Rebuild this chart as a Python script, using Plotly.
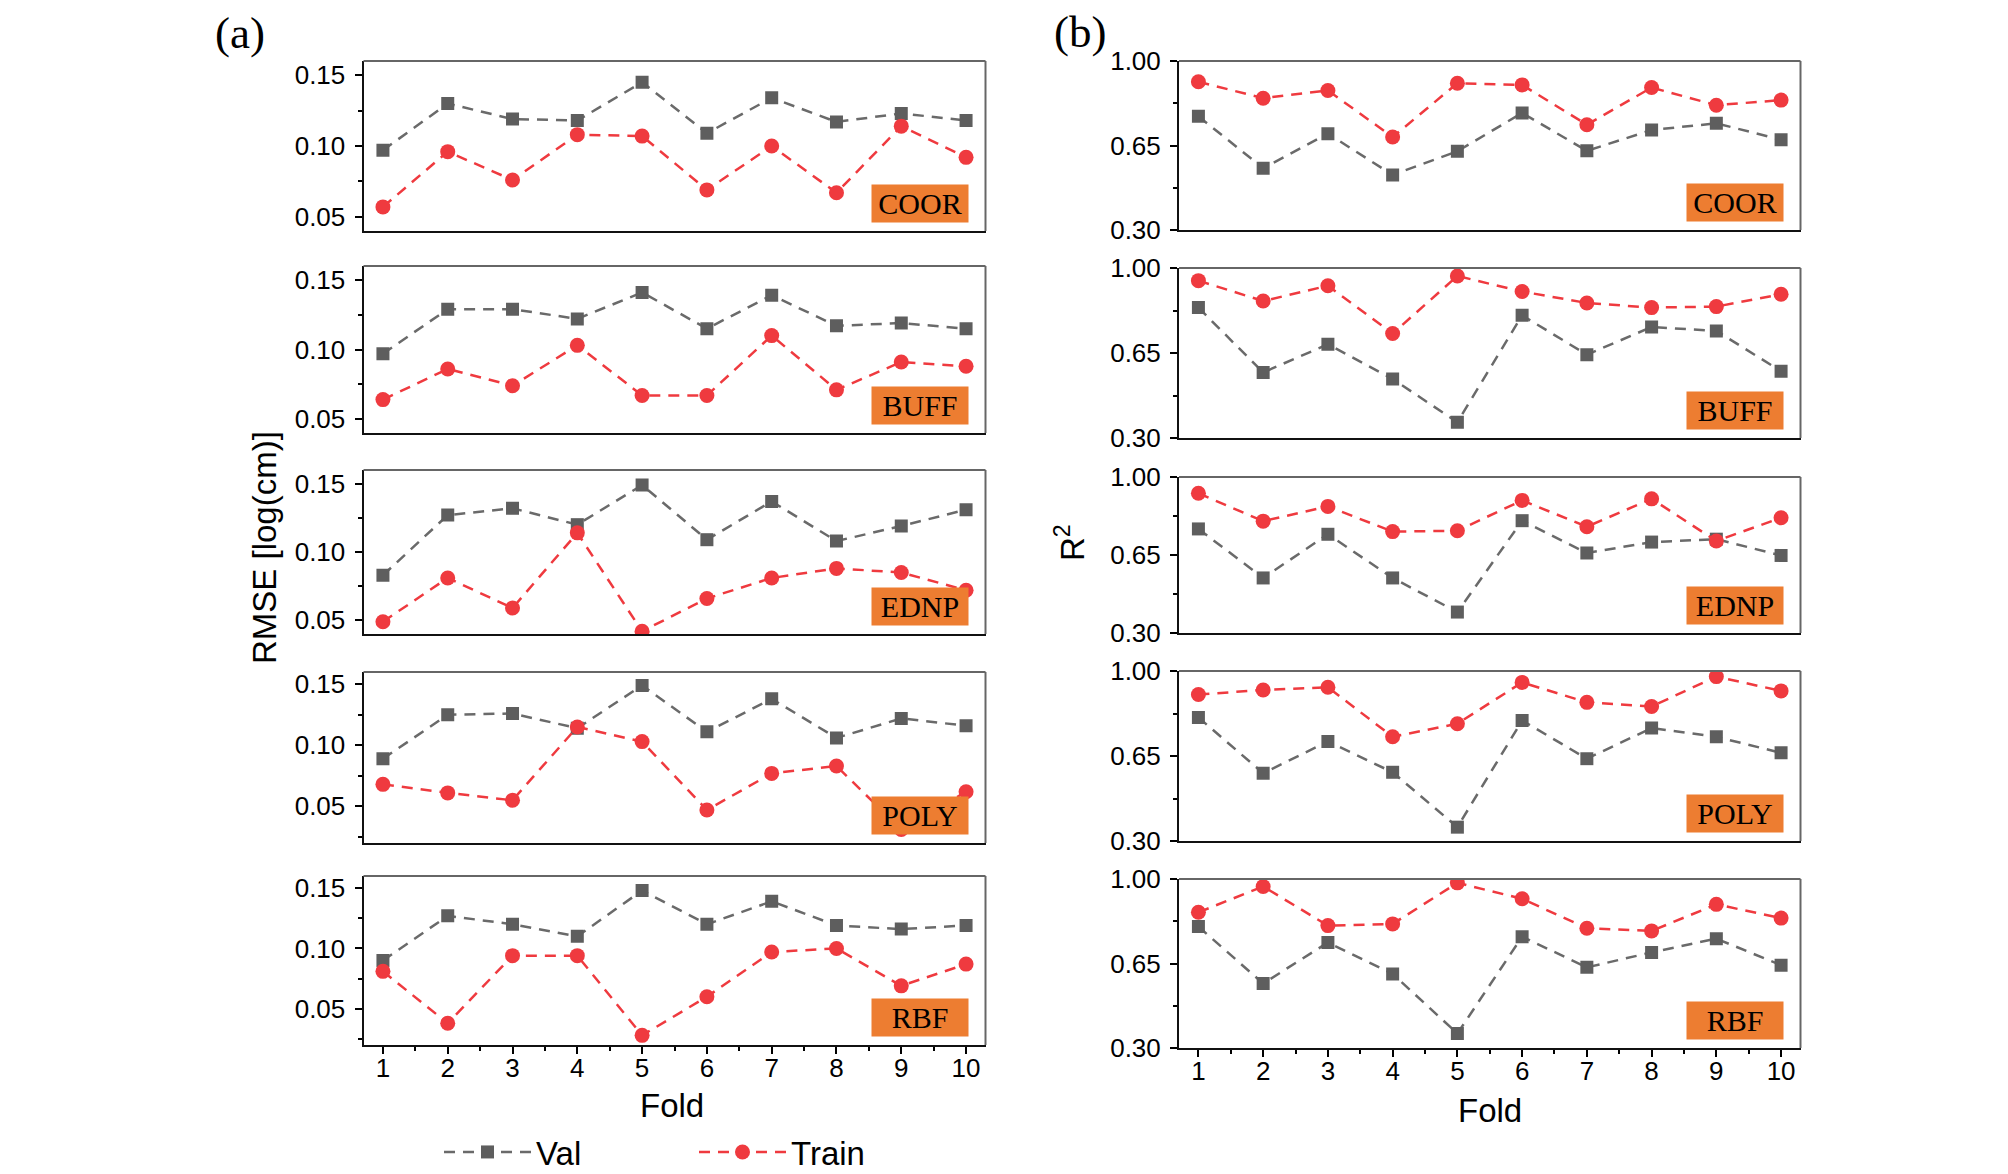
import plotly.graph_objects as go

# eixo x comum
folds = [1, 2, 3, 4, 5, 6, 7, 8, 9, 10]
modelos = ["COOR", "BUFF", "EDNP", "POLY", "RBF"]

# (a) RMSE [log(cm)]
rmse_val_coor = [0.097, 0.130, 0.119, 0.118, 0.145, 0.109, 0.134, 0.117, 0.123, 0.118]
rmse_train_coor = [0.057, 0.096, 0.076, 0.108, 0.107, 0.069, 0.100, 0.067, 0.114, 0.092]
rmse_val_buff = [0.097, 0.129, 0.129, 0.122, 0.141, 0.115, 0.139, 0.117, 0.119, 0.115]
rmse_train_buff = [0.064, 0.086, 0.074, 0.103, 0.067, 0.067, 0.110, 0.071, 0.091, 0.088]
rmse_val_ednp = [0.083, 0.127, 0.132, 0.120, 0.149, 0.109, 0.137, 0.108, 0.119, 0.131]
rmse_train_ednp = [0.049, 0.081, 0.059, 0.114, 0.042, 0.066, 0.081, 0.088, 0.085, 0.072]
rmse_val_poly = [0.089, 0.125, 0.126, 0.114, 0.149, 0.111, 0.138, 0.106, 0.122, 0.116]
rmse_train_poly = [0.068, 0.061, 0.055, 0.115, 0.103, 0.047, 0.077, 0.083, 0.031, 0.062]
rmse_val_rbf = [0.090, 0.127, 0.120, 0.110, 0.148, 0.120, 0.139, 0.119, 0.116, 0.119]
rmse_train_rbf = [0.081, 0.038, 0.094, 0.094, 0.028, 0.060, 0.097, 0.100, 0.069, 0.087]

# (b) R2
r2_val_coor = [0.771, 0.556, 0.699, 0.528, 0.626, 0.785, 0.628, 0.714, 0.742, 0.674]
r2_train_coor = [0.914, 0.846, 0.878, 0.685, 0.908, 0.901, 0.736, 0.890, 0.817, 0.838]
r2_val_buff = [0.837, 0.570, 0.686, 0.543, 0.365, 0.805, 0.643, 0.757, 0.741, 0.575]
r2_train_buff = [0.948, 0.864, 0.927, 0.730, 0.967, 0.903, 0.856, 0.837, 0.841, 0.892]
r2_val_ednp = [0.767, 0.547, 0.743, 0.547, 0.394, 0.804, 0.659, 0.708, 0.721, 0.648]
r2_train_ednp = [0.927, 0.802, 0.868, 0.755, 0.759, 0.895, 0.777, 0.902, 0.713, 0.817]
r2_val_poly = [0.809, 0.579, 0.710, 0.583, 0.357, 0.796, 0.639, 0.765, 0.729, 0.663]
r2_train_poly = [0.903, 0.922, 0.933, 0.729, 0.783, 0.953, 0.871, 0.854, 0.977, 0.918]
r2_val_rbf = [0.803, 0.567, 0.737, 0.607, 0.360, 0.761, 0.634, 0.696, 0.753, 0.643]
r2_train_rbf = [0.862, 0.969, 0.807, 0.814, 0.984, 0.918, 0.796, 0.785, 0.895, 0.838]

rmse_series = [
    (rmse_val_coor, rmse_train_coor),
    (rmse_val_buff, rmse_train_buff),
    (rmse_val_ednp, rmse_train_ednp),
    (rmse_val_poly, rmse_train_poly),
    (rmse_val_rbf, rmse_train_rbf),
]
r2_series = [
    (r2_val_coor, r2_train_coor),
    (r2_val_buff, r2_train_buff),
    (r2_val_ednp, r2_train_ednp),
    (r2_val_poly, r2_train_poly),
    (r2_val_rbf, r2_train_rbf),
]
rmse_ranges = [[0.04, 0.16], [0.04, 0.16], [0.04, 0.16], [0.02, 0.16], [0.02, 0.16]]

# a pagina tem 8px de margem no body: a figura fica 16px menor e as posicoes
# (medidas na pagina) sao deslocadas de OFF
OFF = 8
W, H = 2008 - 2 * OFF, 1174 - 2 * OFF
COR_VAL = "#5E5E5E"
COR_TRAIN = "#EF3A3F"
SANS = "Liberation Sans, Arial, sans-serif"
SERIF = "Liberation Serif, Times New Roman, serif"


def px(x):
    return (x - OFF) / W


def py(y):
    return 1 - (y - OFF) / H


# posicao dos paineis em pixels da pagina (x0, x1) e (y0, y1) de cima para baixo
col_x = [(363.5, 985.5), (1179, 1800.5)]
col_y = [
    [(61, 231), (266, 433), (470, 634), (672, 843), (876, 1045)],
    [(61, 230), (268, 438), (477, 633), (671, 841), (879, 1048)],
]

fig = go.Figure()
layout = {}
anotacoes = []
formas = []

n = 0
for c in range(2):
    for r in range(5):
        n += 1
        sufixo = "" if n == 1 else str(n)
        xa, ya = "x" + sufixo, "y" + sufixo
        if c == 0:
            val, train = rmse_series[r]
        else:
            val, train = r2_series[r]

        fig.add_trace(go.Scatter(
            x=folds, y=val, name="Val", xaxis=xa, yaxis=ya,
            mode="lines+markers", showlegend=(n == 1), legendrank=1,
            line=dict(color="#6A6A6A", width=2.5, dash="11px,8px"),
            marker=dict(symbol="square", size=13, color=COR_VAL),
        ))
        fig.add_trace(go.Scatter(
            x=folds, y=train, name="Train", xaxis=xa, yaxis=ya,
            mode="lines+markers", showlegend=(n == 1), legendrank=2,
            line=dict(color=COR_TRAIN, width=2.5, dash="11px,8px"),
            marker=dict(symbol="circle", size=15, color=COR_TRAIN),
        ))

        x0, x1 = col_x[c]
        y0, y1 = col_y[c][r]
        base = r == 4
        layout["xaxis" + sufixo] = dict(
            domain=[px(x0), px(x1)], anchor=ya, range=[0.7, 10.3],
            tickvals=folds, showticklabels=base, ticks="outside" if base else "",
            ticklen=7, tickwidth=1.5, tickcolor="black", ticklabelstandoff=-8,
            minor=dict(tickvals=[f + 0.5 for f in folds[:-1]], ticks="outside" if base else "",
                       ticklen=4, tickcolor="black"),
            showline=True, linecolor="#111", linewidth=2,
            showgrid=False, zeroline=False,
            tickfont=dict(family=SANS, size=26, color="black"),
        )
        if c == 0:
            yr = rmse_ranges[r]
            tv = [0.05, 0.10, 0.15]
            mv = [v for v in [0.025, 0.075, 0.125] if v > yr[0]]
        else:
            yr = [0.3, 1.0]
            tv = [0.30, 0.65, 1.00]
            mv = [0.475, 0.825]
        layout["yaxis" + sufixo] = dict(
            domain=[py(y1), py(y0)], anchor=xa, range=yr,
            tickvals=tv, tickformat=".2f", ticks="outside",
            ticklen=7, tickwidth=1.5, tickcolor="black", ticklabelstandoff=4,
            minor=dict(tickvals=mv, ticks="outside", ticklen=4, tickcolor="black"),
            showline=True, linecolor="#111", linewidth=2,
            showgrid=False, zeroline=False,
            tickfont=dict(family=SANS, size=26, color="black"),
        )
        # moldura de cima e da direita em cinza
        formas.append(dict(type="line", xref=xa + " domain", yref=ya + " domain",
                           x0=0, x1=1, y0=1, y1=1, line=dict(color="#666", width=2)))
        formas.append(dict(type="line", xref=xa + " domain", yref=ya + " domain",
                           x0=1, x1=1, y0=0, y1=1, line=dict(color="#666", width=2)))
        # rotulo do modelo no canto inferior direito
        anotacoes.append(dict(
            text=modelos[r], xref=xa + " domain", yref=ya + " domain",
            x=1 - 17 / (x1 - x0), y=8 / (y1 - y0), xanchor="right", yanchor="bottom",
            showarrow=False, bgcolor="#ED7D31", width=92, height=33, borderpad=2,
            font=dict(family=SERIF, size=30, color="black"),
        ))

# titulos e letras dos paineis
texto = dict(xref="paper", yref="paper", xanchor="center", yanchor="middle", showarrow=False)
anotacoes += [
    dict(text="(a)", x=px(240), y=py(33), font=dict(family=SERIF, size=45, color="black"), **texto),
    dict(text="(b)", x=px(1080), y=py(32), font=dict(family=SERIF, size=45, color="black"), **texto),
    dict(text="RMSE [log(cm)]", x=px(264), y=py(547), textangle=-90,
         font=dict(family=SANS, size=33, color="black"), **texto),
    dict(text="R<sup>2</sup>", x=px(1070), y=py(543), textangle=-90,
         font=dict(family=SANS, size=33, color="black"), **texto),
    dict(text="Fold", x=px(672), y=py(1105), font=dict(family=SANS, size=33, color="black"), **texto),
    dict(text="Fold", x=px(1490), y=py(1110), font=dict(family=SANS, size=33, color="black"), **texto),
]

fig.update_layout(
    width=W, height=H,
    margin=dict(l=0, r=0, t=0, b=0, autoexpand=False),
    paper_bgcolor="white", plot_bgcolor="white",
    annotations=anotacoes,
    shapes=formas,
    legend=dict(
        orientation="h", x=px(694), y=py(1152), xanchor="center", yanchor="middle",
        font=dict(family=SANS, size=33, color="black"),
        itemwidth=87, entrywidth=153, entrywidthmode="pixels",
        bgcolor="rgba(0,0,0,0)",
    ),
    **layout,
)

fig.write_html("out.html")
